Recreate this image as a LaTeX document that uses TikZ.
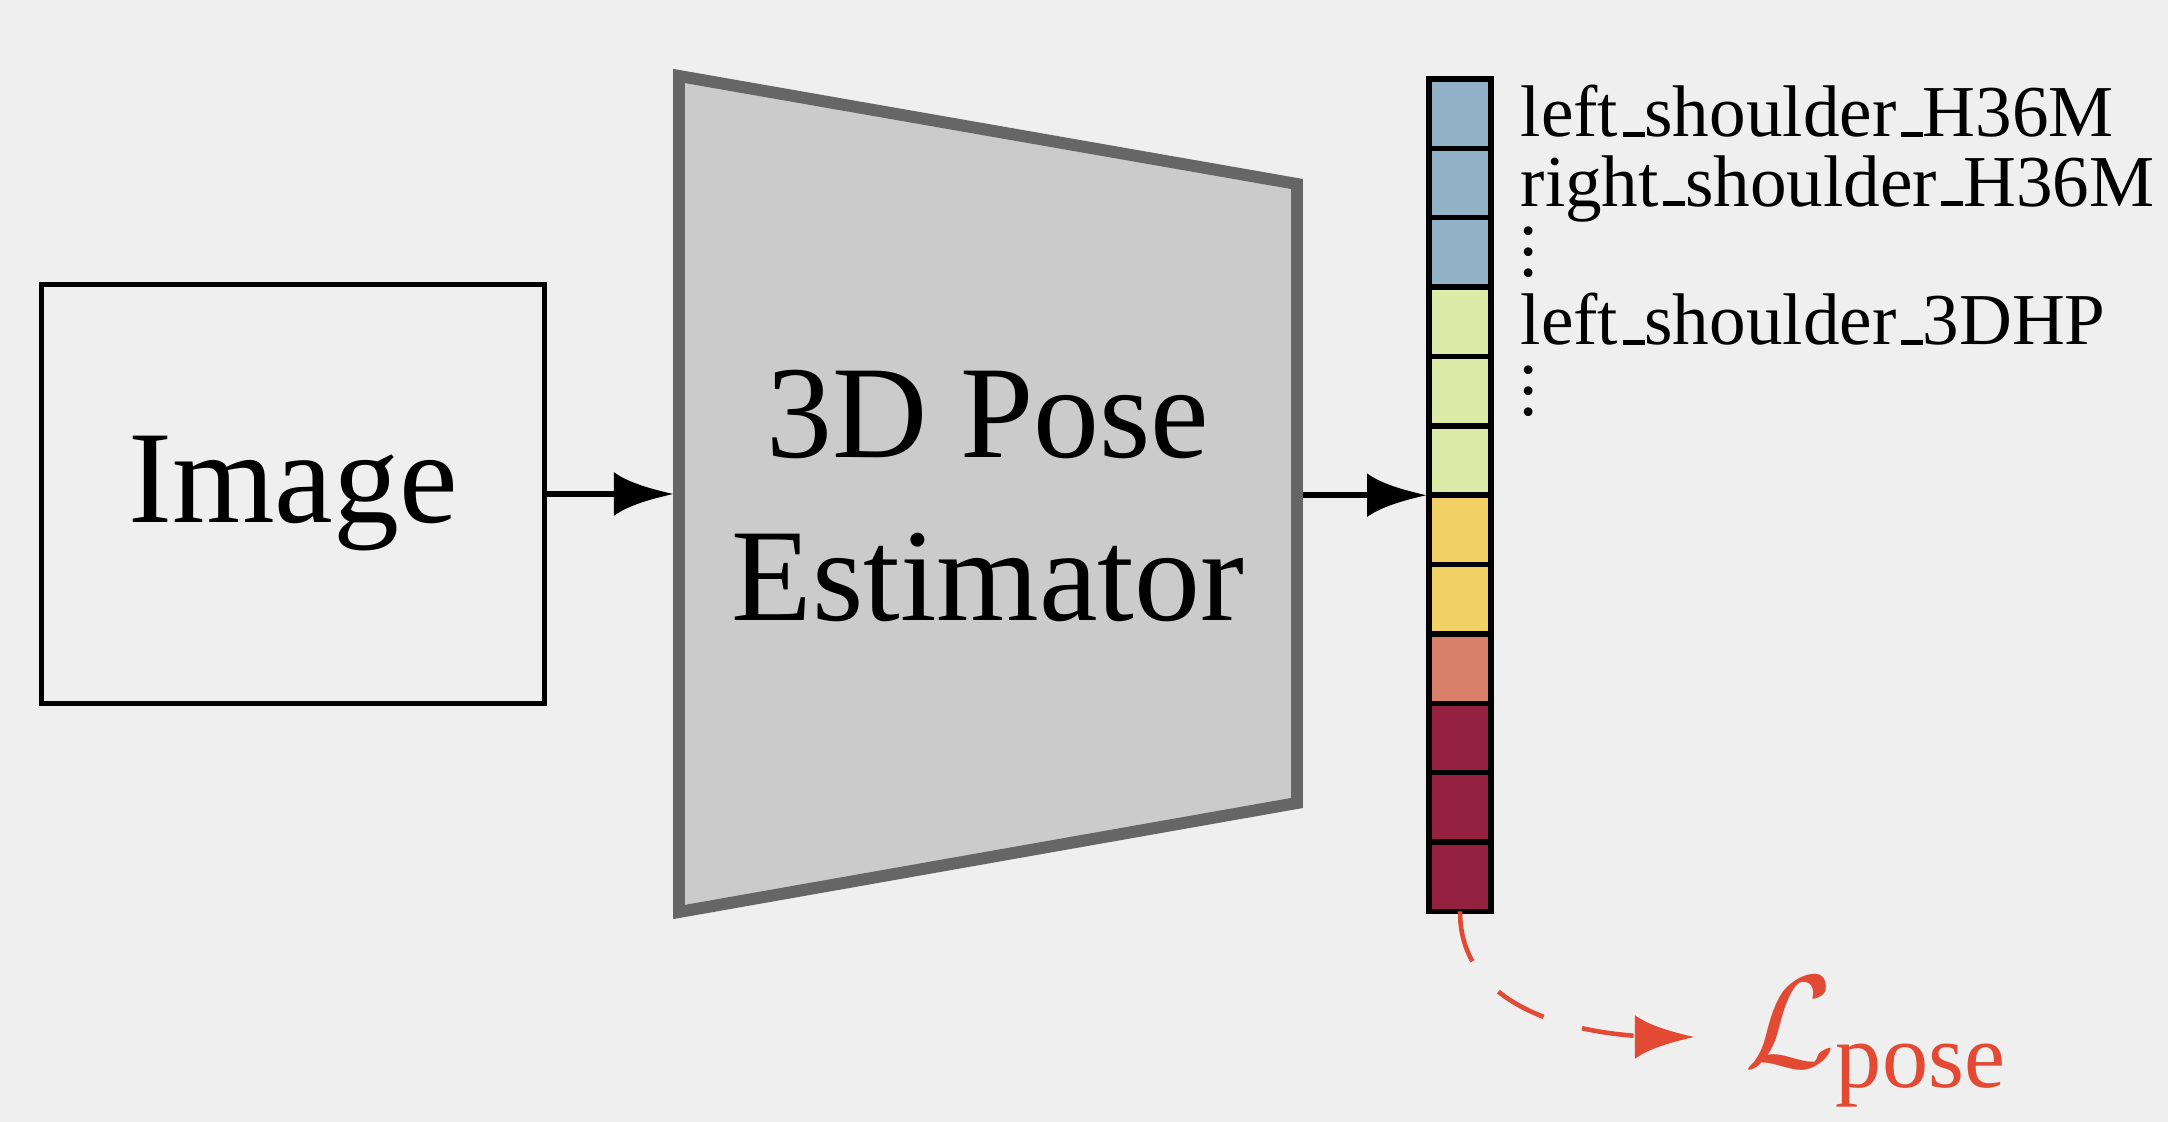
\documentclass[tikz,border=0pt]{standalone}
\usepackage{fontspec}
\setmainfont{Liberation Serif}
\usetikzlibrary{arrows.meta,positioning,calc}
\definecolor{bg}{HTML}{EFEFEF}
\definecolor{trapfill}{HTML}{CBCBCB}
\definecolor{trapline}{HTML}{666666}
\definecolor{cblue}{HTML}{92B3C7}
\definecolor{cgreen}{HTML}{DDEAA8}
\definecolor{cyellow}{HTML}{F1D166}
\definecolor{csalmon}{HTML}{D9806A}
\definecolor{ccrimson}{HTML}{952140}
\definecolor{lred}{HTML}{E24A33}
\pgfdeclarearrow{
  name=Cone,
  setup code={
    \pgfarrowssettipend{0pt}
    \pgfarrowssetlineend{-8pt}
    \pgfarrowssetbackend{-16.8pt}
    \pgfarrowssetvisualbackend{-16.8pt}
    \pgfarrowsupperhullpoint{-16.8pt}{6.2pt}
    \pgfarrowsupperhullpoint{0pt}{0pt}
  },
  drawing code={
    \pgfpathmoveto{\pgfqpoint{0pt}{0pt}}
    \pgfpathcurveto{\pgfqpoint{-7pt}{1.6pt}}{\pgfqpoint{-13pt}{3.4pt}}{\pgfqpoint{-16.8pt}{6.2pt}}
    \pgfpathlineto{\pgfqpoint{-16.8pt}{-6.2pt}}
    \pgfpathcurveto{\pgfqpoint{-13pt}{-3.4pt}}{\pgfqpoint{-7pt}{-1.6pt}}{\pgfqpoint{0pt}{0pt}}
    \pgfpathclose
    \pgfusepathqfill
  },
}
\newcommand\us{\leavevmode\kern.06em\vbox{\hrule height 1.3pt width .3em}}
\newcommand\mydots{\vbox{\baselineskip=5.9pt\lineskiplimit=0pt\hbox{.}\hbox{.}\hbox{.}}}
\newcommand\lossname{{\fontsize{24.8}{28}\selectfont\scalebox{1.512}{$\mathcal{L}_{\mathrm{pose}}$}}}
\tikzset{
  imgbox/.style={draw=black, line width=1.4pt, minimum width=5.035cm, minimum height=4.19cm, inner sep=0pt, font=\fontsize{37.5}{46}\selectfont},
  trap/.style={draw=trapline, fill=trapfill, line width=3.4pt, line join=miter},
  bigtext/.style={align=center, inner sep=0pt, font=\fontsize{37.5}{46.4}\selectfont},
  cell/.style={draw=black, line width=1.56pt, minimum width=0.62cm, minimum height=0.6933cm, inner sep=0pt, outer sep=0pt},
  lab/.style={anchor=base west, inner sep=0pt, font=\fontsize{20.8}{24}\selectfont},
  dotsn/.style={inner sep=0pt, font=\fontsize{20.8}{24}\selectfont},
  arr/.style={line width=1.6pt, -{Cone}},
  lossarr/.style={draw=lred, line width=1.3pt, dash pattern=on 14.8pt off 11.4pt, -{Cone}, fill=none},
}
\begin{document}
\begin{tikzpicture}[x=0.01cm, y=-0.01cm]
\fill[bg] (0,0) rectangle (2168,1122);
\useasboundingbox (0,0) rectangle (2168,1122);
% image box
\node[imgbox] (img) at (293,494) {Image};
% trapezoid
\coordinate (tl) at (679,76);
\coordinate (tr) at (1297,184);
\coordinate (br) at (1297,803);
\coordinate (bl) at (679,912);
\draw[trap] (tl) -- (tr) -- (br) -- (bl) -- cycle;
\node[bigtext] (est) at (988,496) {3D Pose\\Estimator};
\coordinate (tin) at (673,494);
\coordinate (tout) at (1303,494);
% column
\node[cell, fill=cblue] (c1) at (1460,113.7) {};
\node[cell, fill=cblue, below=0pt of c1] (c2) {};
\node[cell, fill=cblue, below=0pt of c2] (c3) {};
\node[cell, fill=cgreen, below=0pt of c3] (c4) {};
\node[cell, fill=cgreen, below=0pt of c4] (c5) {};
\node[cell, fill=cgreen, below=0pt of c5] (c6) {};
\node[cell, fill=cyellow, below=0pt of c6] (c7) {};
\node[cell, fill=cyellow, below=0pt of c7] (c8) {};
\node[cell, fill=csalmon, below=0pt of c8] (c9) {};
\node[cell, fill=ccrimson, below=0pt of c9] (c10) {};
\node[cell, fill=ccrimson, below=0pt of c10] (c11) {};
\node[cell, fill=ccrimson, below=0pt of c11] (c12) {};
% labels
\node[lab] (l1) at ($(c1.east)+(29,23)$) {left\us shoulder\us H36M};
\node[lab] (l2) at ($(c2.east)+(29,23)$) {right\us shoulder\us H36M};
\node[dotsn] (d1) at ($(c3.east)+(38,0)$) {\mydots};
\node[lab] (l4) at ($(c4.east)+(29,23)$) {left\us shoulder\us 3DHP};
\node[dotsn] (d2) at ($(c5.east)+(38,0)$) {\mydots};
% arrows
\draw[arr] (img.east) -- (tin);
\draw[arr] (tout |- c6.south west) -- ([xshift=-0.8pt]c6.south west);
% loss
\node[anchor=base west, inner sep=0pt, text=lred] (loss) at (1744,1068) {\lossname};
\coordinate (ltip) at (1694,1037);
\draw[lossarr] (c12.south) to[out=-90, in=180] (ltip);
\end{tikzpicture}
\end{document}
